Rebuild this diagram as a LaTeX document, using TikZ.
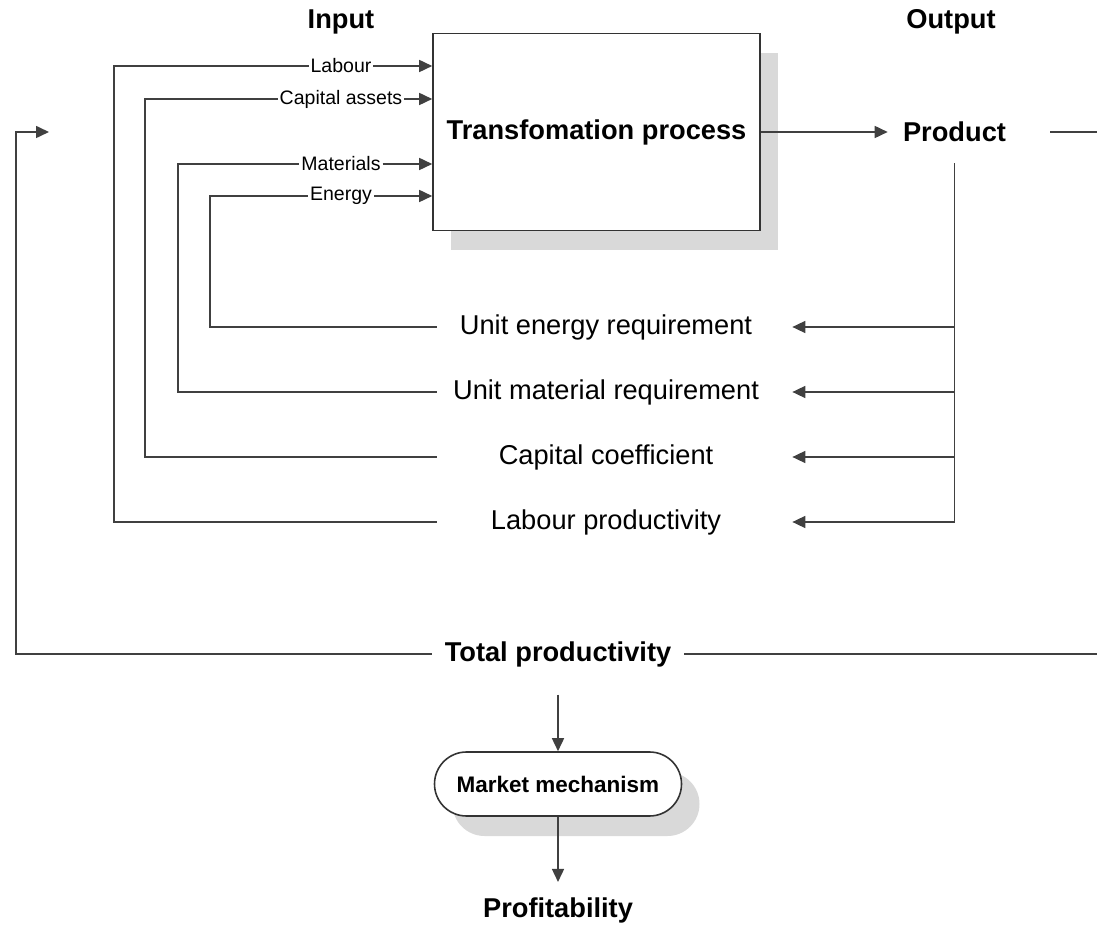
\documentclass[tikz,border=0pt]{standalone}
\usepackage{fontspec}
\setmainfont{Liberation Sans}
\usetikzlibrary{arrows.meta,shadows}

\begin{document}
\begin{tikzpicture}[
  ln/.style={draw=black!75, line width=0.9pt},
  arr/.style={ln, -{Triangle[length=2.6mm,width=2.4mm]}},
  big/.style={font=\fontsize{15.5}{18}\selectfont},
  hd/.style={font=\fontsize{15.5}{18}\selectfont\bfseries},
  inlab/.style={font=\fontsize{11.1}{13}\selectfont, inner xsep=1pt},
  row/.style={big, minimum width=7.1cm, inner xsep=0pt},
  box/.style={draw=black!80, line width=0.9pt, fill=white, drop shadow={shadow xshift=0.36cm, shadow yshift=-0.4cm, fill=black!15, opacity=1}}]
  \useasboundingbox (0,0) rectangle (21.94,-18.6);
  % ---------------- headings
  \node[hd] (inp) at (6.82,-0.44) {Input};
  \node[hd] (outp) at (19.02,-0.44) {Output};
  % ---------------- process and product
  \node[box, hd, minimum width=6.54cm, minimum height=3.94cm] (proc) at (11.93,-2.64) {Transfomation process};
  \node[hd, inner xsep=0.3cm, inner ysep=0.42cm] (prod) at (19.09,-2.64) {Product};
  \draw[arr] (proc.east) -- (prod.west);
  \coordinate (rtop) at (21.94,-2.64);
  \draw[ln] ([xshift=0.58cm]prod.east) -- (rtop);
  % ---------------- ratios
  \foreach \r/\yy/\t in {ue/-6.54/Unit energy requirement, um/-7.84/Unit material requirement, cc/-9.14/Capital coefficient, lp/-10.44/Labour productivity}{
    \node[row] (\r) at (12.29,\yy) {\t\hspace*{3.4mm}};}
  \draw[arr] (prod.south) |- (lp.east);
  \foreach \r in {ue,um,cc}{\draw[arr] (prod.south |- \r.east) -- (\r.east);}
  % ---------------- inputs
  \foreach \nm/\xx/\yy/\t/\r in {lab/2.28/-1.32/Labour/lp, cap/2.9/-1.98/Capital assets/cc, mat/3.56/-3.28/Materials/um, en/4.2/-3.92/Energy/ue}{
    \node[inlab] (\nm) at (6.82,\yy) {\t};
    \draw[ln] (\r.west) -| (\xx,\yy) -- (\nm.west);
    \draw[arr] (\nm.east) -- (proc.west |- \nm.east);}
  % ---------------- total and market
  \node[hd, inner xsep=0.25cm, inner ysep=0.55cm] (tot) at (11.16,-13.08) {Total productivity};
  \coordinate (fb) at (0.98,-2.64);
  \coordinate (rbot) at (21.94,-13.08);
  \draw[arr] (tot.west) -| ([xshift=-0.66cm]fb) -- (fb);
  \draw[ln] (tot.east) -- (rbot);
  \node[box, rounded corners=0.64cm, minimum width=4.94cm, minimum height=1.28cm, font=\fontsize{12.8}{15}\selectfont\bfseries] (mm) at (11.16,-15.68) {Market mechanism};
  \node[hd, inner ysep=0.3cm] (prof) at (11.16,-18.2) {Profitability};
  \draw[arr] (tot.south) -- (mm.north);
  \draw[arr] (mm.south) -- (prof.north);
\end{tikzpicture}
\end{document}
